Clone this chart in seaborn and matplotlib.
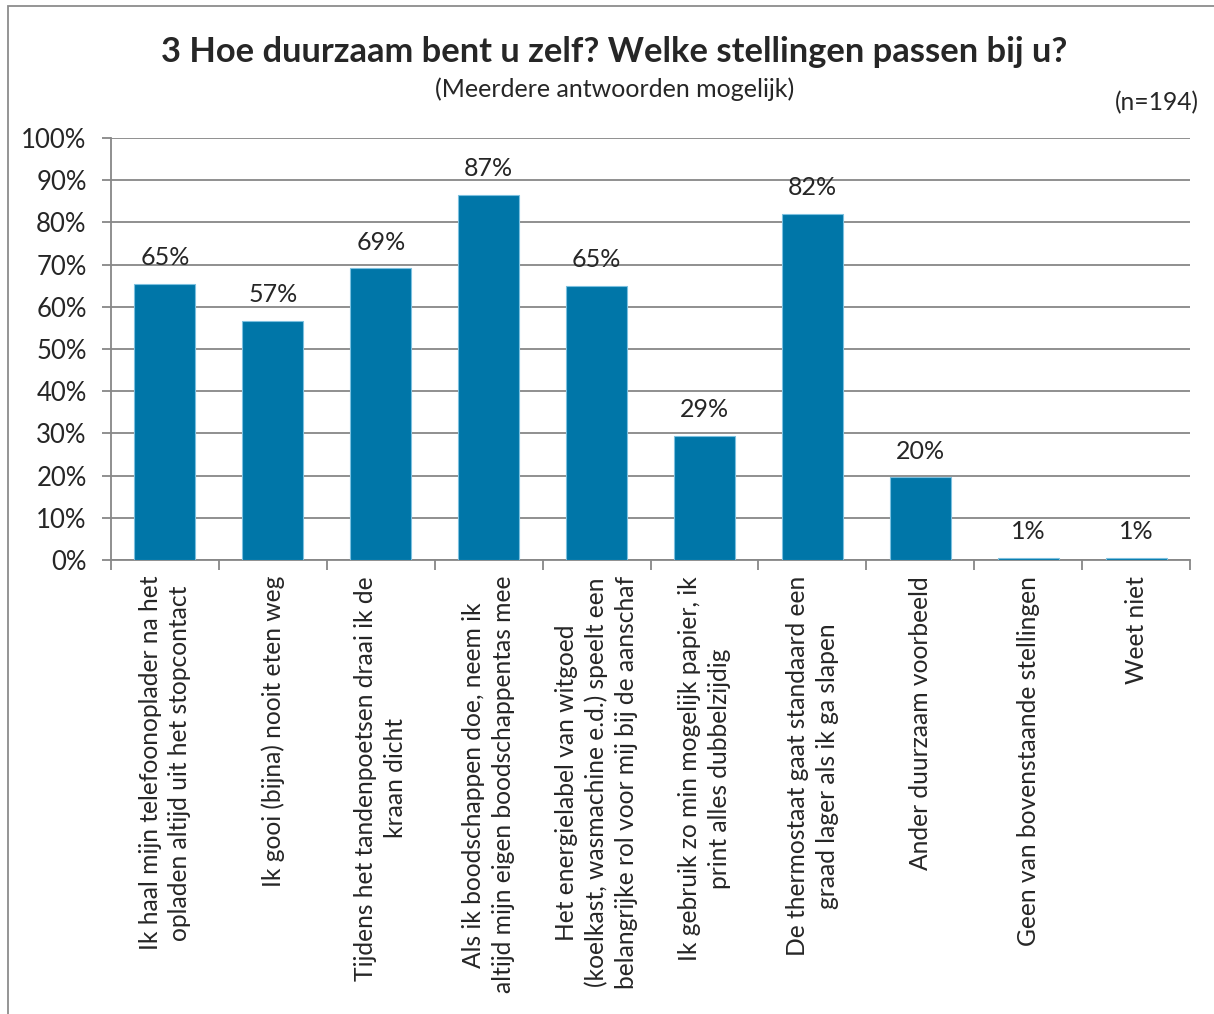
import matplotlib
matplotlib.use("Agg")
import matplotlib.pyplot as plt
import seaborn as sns
import pandas as pd
from matplotlib.patches import Rectangle

# data (n=194)
categories = [
    "Ik haal mijn telefoonoplader na het\nopladen altijd uit het stopcontact",
    "Ik gooi (bijna) nooit eten weg",
    "Tijdens het tandenpoetsen draai ik de\nkraan dicht",
    "Als ik boodschappen doe, neem ik\naltijd mijn eigen boodschappentas mee",
    "Het energielabel van witgoed\n(koelkast, wasmachine e.d.) speelt een\nbelangrijke rol voor mij bij de aanschaf",
    "Ik gebruik zo min mogelijk papier, ik\nprint alles dubbelzijdig",
    "De thermostaat gaat standaard een\ngraad lager als ik ga slapen",
    "Ander duurzaam voorbeeld",
    "Geen van bovenstaande stellingen",
    "Weet niet",
]
percentages = [65.4, 56.7, 69.1, 86.6, 64.9, 29.4, 82.0, 19.6, 0.52, 0.52]
y_ticks = [0, 10, 20, 30, 40, 50, 60, 70, 80, 90, 100]

bar_color = "#0076A8"
grid_color = "#878787"

sns.set_theme(style="white")
plt.rcParams["font.family"] = ["Lato", "DejaVu Sans"]

df = pd.DataFrame({"stelling": categories, "pct": percentages})

fig = plt.figure(figsize=(12.14, 10.14), dpi=100)
ax = fig.add_axes([111 / 1214, 1 - 560 / 1014, 1079 / 1214, 422 / 1014])

sns.barplot(data=df, x="stelling", y="pct", color=bar_color, width=0.565,
            saturation=1, edgecolor="#7cc0df", linewidth=0.8, ax=ax, zorder=3)

ax.set_ylim(0, 100)
ax.set_xlim(-0.5, len(categories) - 0.5)
ax.set_yticks(y_ticks)
ax.set_yticklabels([f"{t}%" for t in y_ticks], fontsize=18.5)
ax.yaxis.grid(True, color=grid_color, linewidth=1.3, zorder=0)
ax.set_axisbelow(True)
ax.set_xlabel("")
ax.set_ylabel("")

for side in ["top", "right"]:
    ax.spines[side].set_visible(False)
for side in ["left", "bottom"]:
    ax.spines[side].set_color(grid_color)
    ax.spines[side].set_linewidth(1.3)

# y ticks outward
ax.tick_params(axis="y", which="major", left=True, length=6.5, color=grid_color,
               width=1.3, pad=11)

# x ticks at category boundaries, labels centred under bars
ax.set_xticks(range(len(categories)))
ax.set_xticklabels(categories, rotation=90, fontsize=17.7, ha="center",
                   va="top", multialignment="center", linespacing=1.35)
ax.tick_params(axis="x", which="major", bottom=False, length=0, pad=11.5)
ax.set_xticks([i - 0.5 for i in range(len(categories) + 1)], minor=True)
ax.tick_params(axis="x", which="minor", bottom=True, length=7,
               color=grid_color, width=1.3)

for i, v in enumerate(percentages):
    ax.text(i, v + 3.5, f"{v:.0f}%", ha="center", va="bottom", fontsize=18)

fig.text(0.506, 1 - 52 / 1014, "3 Hoe duurzaam bent u zelf? Welke stellingen passen bij u?",
         ha="center", va="center", fontsize=24.8, fontweight="bold")
fig.text(0.506, 1 - 89 / 1014, "(Meerdere antwoorden mogelijk)",
         ha="center", va="center", fontsize=18)
fig.text(1199 / 1214, 1 - 103 / 1014, "(n=194)", ha="right", va="center",
         fontsize=17.7)

# chart border (Excel style frame)
fig.patches.append(Rectangle((8 / 1214, -0.01), 1.1, 1 - 6 / 1014 + 0.01,
                             transform=fig.transFigure, fill=False,
                             edgecolor="#8c8c8c", linewidth=1.3))

fig.savefig("out.png", dpi=100)
